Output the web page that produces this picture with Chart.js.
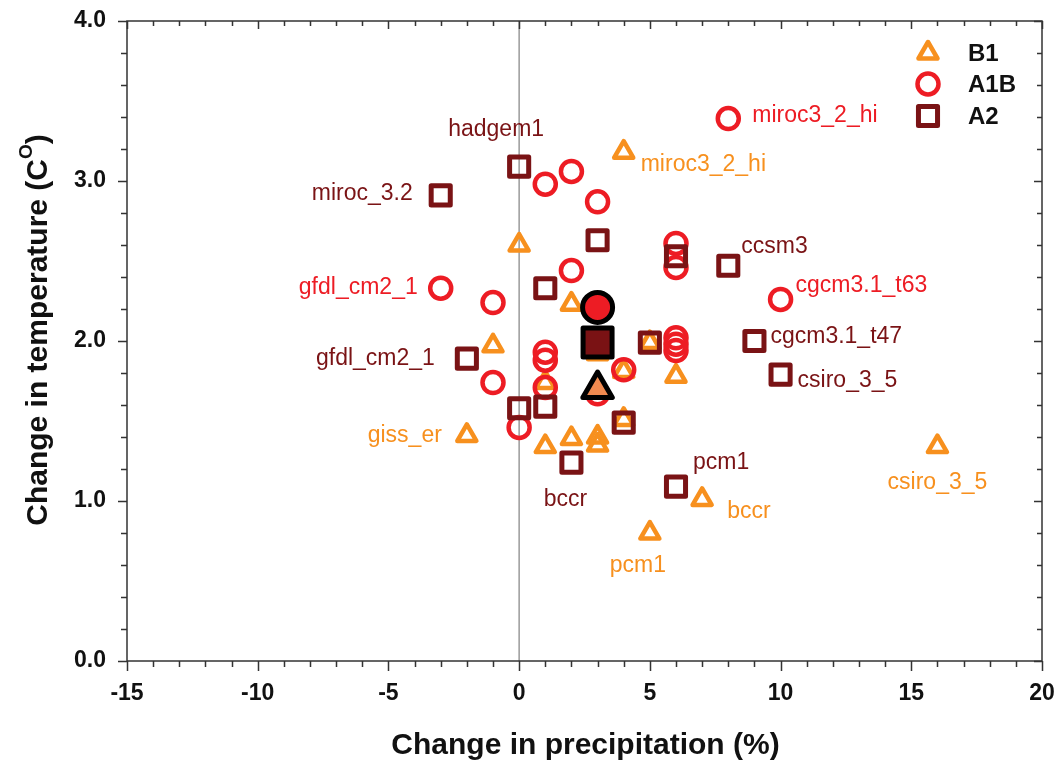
<!DOCTYPE html>
<html><head><meta charset="utf-8">
<script src="https://cdn.jsdelivr.net/npm/chart.js@4.4.0/dist/chart.umd.min.js"></script>
<style>html,body{margin:0;padding:0;background:#fff}#wrap{width:1059px;height:771px;position:relative}</style>
</head><body><div id="wrap"><canvas id="c" width="1059" height="771"></canvas></div>
<script>
// ---------- data ----------
const seriesNames = ["B1", "A1B", "A2"];
const b1X = [4, 0, 2, -1, -2, 1, 2, 3, 3, 16, 7, 5, 6, 4, 4, 1, 5, 3];
const b1Y = [3.18, 2.60, 2.23, 1.97, 1.41, 1.34, 1.39, 1.40, 1.35, 1.34, 1.01, 0.80, 1.78, 1.51, 1.81, 1.74, 1.99, 1.92];
const a1bX = [8, 2, 1, 3, 6, 6, 2, -3, -1, 10, 6, 6, 6, 1, 1, 1, -1, 0, 4, 3];
const a1bY = [3.39, 3.06, 2.98, 2.87, 2.61, 2.46, 2.44, 2.33, 2.24, 2.26, 2.02, 1.98, 1.94, 1.93, 1.88, 1.71, 1.74, 1.46, 1.82, 1.67];
const a2X = [0, -3, 3, 6, 8, 1, 5, 9, -2, 10, 0, 1, 4, 2, 6];
const a2Y = [3.09, 2.91, 2.63, 2.53, 2.47, 2.33, 1.99, 2.00, 1.89, 1.79, 1.58, 1.59, 1.49, 1.24, 1.09];
const meanX = [3, 3, 3];          // B1, A1B, A2 ensemble means
const meanY = [1.70, 2.21, 1.99];
const xTicks = [-15, -10, -5, 0, 5, 10, 15, 20];
const yTicks = [0.0, 1.0, 2.0, 3.0, 4.0];
// model name labels: series, point index, text
const labelSeries = ["A2", "A2", "A2", "A2", "A2", "A2", "A2", "A2", "A1B", "A1B", "A1B", "B1", "B1", "B1", "B1", "B1"];
const labelIndex  = [0, 1, 8, 4, 7, 9, 14, 13, 0, 7, 9, 0, 4, 9, 10, 11];
const labelText   = ["hadgem1", "miroc_3.2", "gfdl_cm2_1", "ccsm3", "cgcm3.1_t47", "csiro_3_5", "pcm1", "bccr",
                     "miroc3_2_hi", "gfdl_cm2_1", "cgcm3.1_t63",
                     "miroc3_2_hi", "giss_er", "csiro_3_5", "bccr", "pcm1"];
// ---------- styling / placement ----------
const labelPlace = [ // [dx, dy, align]
  [-23, -37, "center"], [-28, -2, "right"], [-32, 0, "right"], [13, -19, "left"], [16, -4, "left"], [17, 6, "left"], [17, -24, "left"], [-6, 37, "center"],
  [24, -3, "left"], [-23, -1, "right"], [15, -14, "left"],
  [17, 12, "left"], [-25, 0, "right"], [0, 36, "center"], [25, 12, "left"], [-12, 33, "center"]
];
const COL = { B1: "#F7901E", A1B: "#ED1C24", A2: "#7A1315" };
const STYLE = {
  B1: { pointStyle: "triangle", radius: 11, borderWidth: 4.5 },
  A1B: { pointStyle: "circle", radius: 10.5, borderWidth: 4.5 },
  A2: { pointStyle: "rect", radius: 13.5, borderWidth: 5 }
};
const pts = (xs, ys) => xs.map((x, i) => ({ x: x, y: ys[i] }));
const seriesData = { B1: pts(b1X, b1Y), A1B: pts(a1bX, a1bY), A2: pts(a2X, a2Y) };
const FONT = "'Liberation Sans', Arial, sans-serif";

function mk(name, order) {
  const s = STYLE[name];
  return { label: name, data: seriesData[name], order: order, pointStyle: s.pointStyle, pointRadius: s.radius,
    pointBorderWidth: s.borderWidth, pointBorderColor: COL[name], pointBackgroundColor: "rgba(0,0,0,0)", showLine: false };
}
const meanFill = ["#F08A50", "#ED1C24", "#7A1214"];
const meanStyle = [["triangle", 17, 2], ["circle", 15, 1], ["rect", 20.5, 0]];
const meanSets = seriesNames.map((n, i) => ({
  label: n + " mean", data: [{ x: meanX[i], y: meanY[i] }], order: meanStyle[i][2], pointStyle: meanStyle[i][0],
  pointRadius: meanStyle[i][1], pointBorderWidth: 5, pointBorderColor: "#000", pointBackgroundColor: meanFill[i], showLine: false
}));

const decor = {
  id: "decor",
  beforeDatasetsDraw(chart) {
    const { ctx, chartArea: a, scales: { x } } = chart;
    ctx.save();
    ctx.strokeStyle = "#9a9a9a"; ctx.lineWidth = 1.5;
    const x0 = x.getPixelForValue(0);
    ctx.beginPath(); ctx.moveTo(x0, a.top); ctx.lineTo(x0, a.bottom); ctx.stroke();
    ctx.restore();
    ctx.save();
    ctx.lineJoin = "round";
  },
  afterDatasetsDraw(chart) {
    const { ctx, chartArea: a, scales: { x, y } } = chart;
    ctx.restore();
    ctx.save();
    // frame
    ctx.strokeStyle = "#333"; ctx.lineWidth = 1.5;
    ctx.strokeRect(a.left, a.top, a.right - a.left, a.bottom - a.top);
    ctx.beginPath();
    for (let v = -15; v <= 20; v += 1) {
      const px = Math.round(x.getPixelForValue(v)) + 0.5;
      const major = v % 5 === 0;
      ctx.moveTo(px, a.bottom); ctx.lineTo(px, a.bottom + (major ? 10 : 6));
      ctx.moveTo(px, a.top); ctx.lineTo(px, a.top + (major ? 8 : 5));
    }
    for (let k = 0; k <= 20; k++) {
      const v = k * 0.2;
      const py = Math.round(y.getPixelForValue(v)) + 0.5;
      const major = k % 5 === 0;
      ctx.moveTo(a.left, py); ctx.lineTo(a.left - (major ? 9 : 6), py);
      ctx.moveTo(a.right, py); ctx.lineTo(a.right - (major ? 8 : 5), py);
    }
    ctx.stroke();
    // model labels
    ctx.font = "23px " + FONT; ctx.textBaseline = "middle";
    labelText.forEach((t, i) => {
      const s = labelSeries[i], p = seriesData[s][labelIndex[i]], pl = labelPlace[i];
      ctx.fillStyle = COL[s]; ctx.textAlign = pl[2];
      ctx.fillText(t, x.getPixelForValue(p.x) + pl[0], y.getPixelForValue(p.y) + pl[1]);
    });
    // legend
    const lx = 928, ly = [53, 84, 116];
    seriesNames.forEach((n, i) => {
      const s = STYLE[n];
      ctx.save(); ctx.lineJoin = "round";
      ctx.strokeStyle = COL[n]; ctx.lineWidth = s.borderWidth; ctx.fillStyle = "rgba(0,0,0,0)";
      Chart.helpers.drawPoint(ctx, { pointStyle: s.pointStyle, radius: s.radius, borderWidth: s.borderWidth, rotation: 0 }, lx, ly[i]);
      ctx.restore();
      ctx.fillStyle = "#111"; ctx.font = "bold 24px " + FONT; ctx.textAlign = "left"; ctx.textBaseline = "middle";
      ctx.fillText(n, 968, ly[i] + 1);
    });
    // axis titles
    ctx.fillStyle = "#111"; ctx.font = "bold 30px " + FONT; ctx.textAlign = "center"; ctx.textBaseline = "middle";
    ctx.fillText("Change in precipitation (%)", (a.left + a.right) / 2 + 1, 746);
    ctx.save();
    ctx.translate(39, 330); ctx.rotate(-Math.PI / 2);
    const main = "Change in temperature (C", sup = "O", close = ")";
    const f1 = "bold 30px " + FONT, f2 = "bold 19px " + FONT;
    ctx.font = f1; const w1 = ctx.measureText(main).width, w3 = ctx.measureText(close).width;
    ctx.font = f2; const w2 = ctx.measureText(sup).width;
    let sx = -(w1 + w2 + w3) / 2;
    ctx.textAlign = "left";
    ctx.font = f1; ctx.fillText(main, sx, 0); sx += w1;
    ctx.font = f2; ctx.fillText(sup, sx, -12); sx += w2;
    ctx.font = f1; ctx.fillText(close, sx, 0);
    ctx.restore();
    ctx.restore();
  }
};

const noPad = s => { s.paddingTop = 0; s.paddingBottom = 0; s.paddingLeft = 0; s.paddingRight = 0; };
new Chart(document.getElementById("c"), {
  type: "scatter",
  data: { datasets: [...meanSets, mk("A2", 3), mk("A1B", 4), mk("B1", 5)] },
  options: {
    responsive: false, animation: false,
    layout: { autoPadding: false, padding: { top: 21, right: 17, left: 0, bottom: 0 } },
    plugins: { legend: { display: false }, tooltip: { enabled: false } },
    scales: {
      x: { type: "linear", min: -15, max: 20, afterBuildTicks: s => { s.ticks = xTicks.map(v => ({ value: v })); },
        grid: { display: false, drawTicks: false }, border: { display: false },
        ticks: { color: "#111", font: { family: FONT, size: 23, weight: "bold" }, padding: 19, maxRotation: 0 },
        afterFit: s => { s.height = 110; noPad(s); } },
      y: { type: "linear", min: 0, max: 4, afterBuildTicks: s => { s.ticks = yTicks.map(v => ({ value: v })); },
        grid: { display: false, drawTicks: false }, border: { display: false },
        ticks: { color: "#111", font: { family: FONT, size: 23, weight: "bold" }, padding: 21, callback: v => Number(v).toFixed(1) },
        afterFit: s => { s.width = 127; noPad(s); } }
    }
  },
  plugins: [decor]
});
</script></body></html>
